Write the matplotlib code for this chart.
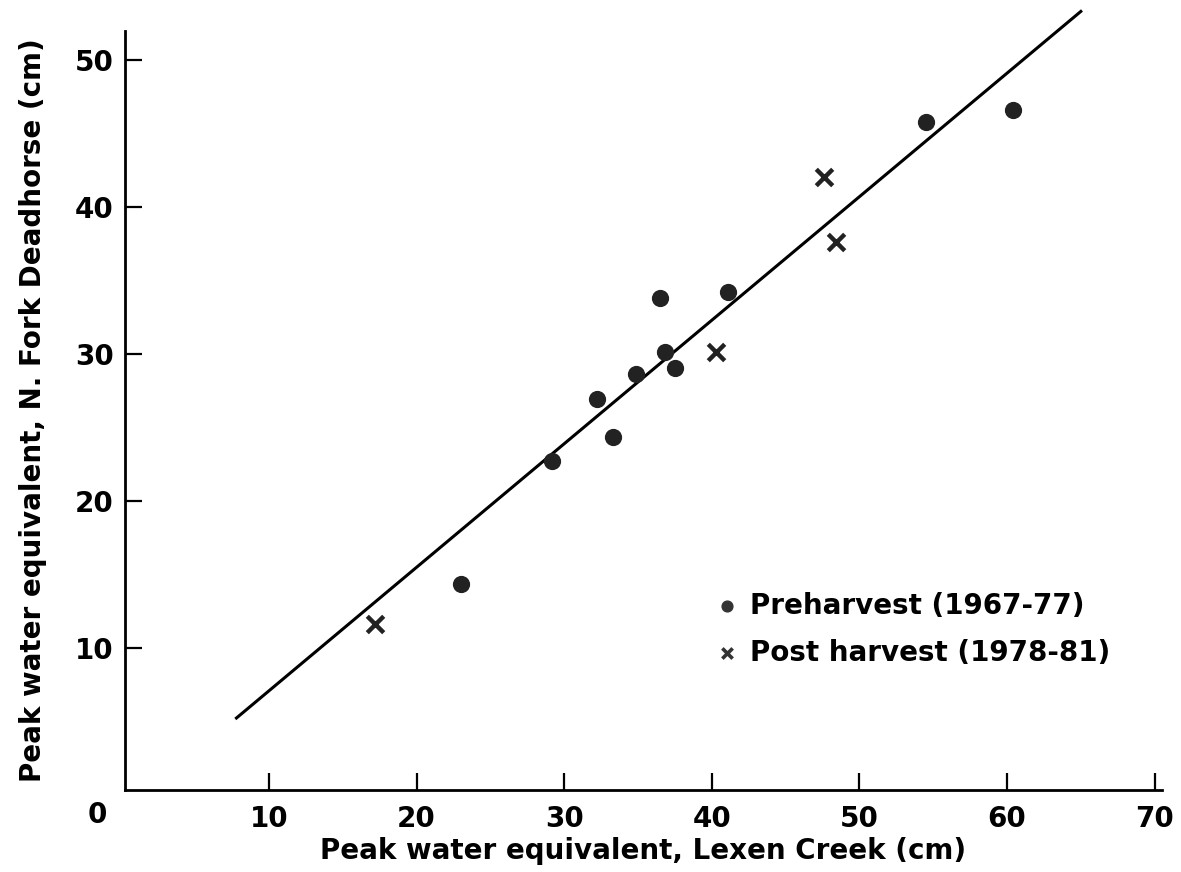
# Peak water equivalent: N. Fork Deadhorse vs Lexen Creek
import numpy as np
import matplotlib
matplotlib.use("Agg")
import matplotlib.pyplot as plt

plt.rcParams['font.family'] = ['DejaVu Sans']
plt.rcParams['font.weight'] = 'bold'
plt.rcParams['axes.labelweight'] = 'bold'

# preharvest years (1967-77)
pre_x = [23.0, 29.2, 32.2, 33.3, 34.9, 36.5, 36.8, 37.5, 41.1, 54.5, 60.4]
pre_y = [14.3, 22.7, 26.9, 24.3, 28.6, 33.8, 30.1, 29.0, 34.2, 45.8, 46.6]

# post harvest years (1978-81)
post_x = [17.2, 40.3, 47.6, 48.4]
post_y = [11.6, 30.1, 42.0, 37.6]

# regression line drawn on the figure
line_x = [7.8, 65.0]
line_slope = 0.841
line_icpt = -1.36

xticks = [10, 20, 30, 40, 50, 60, 70]
yticks = [10, 20, 30, 40, 50]

fig = plt.figure(figsize=(11.81, 8.72), dpi=100)
ax = fig.add_axes([125 / 1181, 1 - 790 / 872, 1037 / 1181, (790 - 30.6) / 872])

lx = np.array(line_x)
ax.plot(lx, line_slope * lx + line_icpt, color='black', lw=2.2, clip_on=False)

ax.scatter(pre_x, pre_y, s=130, color='#222222', marker='o', zorder=3)
ax.scatter(post_x, post_y, s=140, color='#222222', marker='x', linewidths=3.2, zorder=3)

ax.set_xlim(0.25, 70.5)
ax.set_ylim(0.3, 52)
ax.set_xticks(xticks)
ax.set_yticks(yticks)

for s in ['top', 'right']:
    ax.spines[s].set_visible(False)
for s in ['left', 'bottom']:
    ax.spines[s].set_linewidth(2)

ax.tick_params(axis='both', direction='in', length=12, width=1.6, labelsize=20)
ax.tick_params(axis='x', pad=11)
ax.tick_params(axis='y', pad=8)

ax.text(-1.65, -1.4, "0", fontsize=20, ha='center', va='center', clip_on=False)

ax.set_xlabel("Peak water equivalent, Lexen Creek (cm)", fontsize=20, labelpad=3)
ax.set_ylabel("Peak water equivalent, N. Fork Deadhorse (cm)", fontsize=20, labelpad=20)

# legend, drawn by hand like the original
ax.scatter([41.0], [12.8], s=60, color='#333333', marker='o')
ax.text(42.6, 12.8, "Preharvest (1967-77)", fontsize=20, va='center')
ax.scatter([41.0], [9.66], s=55, color='#333333', marker='x', linewidths=2.6)
ax.text(42.6, 9.66, "Post harvest (1978-81)", fontsize=20, va='center')

fig.savefig("out.png", dpi=100)
